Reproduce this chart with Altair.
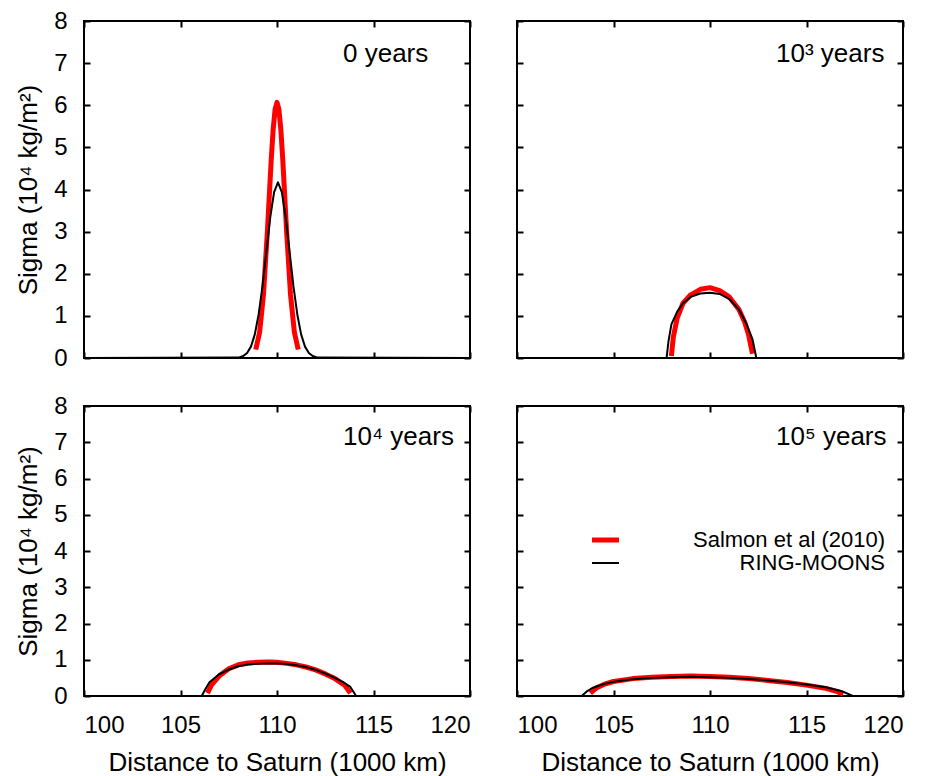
import altair as alt
import pandas as pd

FONT = "Liberation Sans"
RED = "#ff0000"
BLACK = "#000000"

SERIES = ["Salmon et al (2010)", "RING-MOONS"]
PANEL_LABELS = ["0 years", "10³ years", "10⁴ years", "10⁵ years"]
X_TITLE = "Distance to Saturn (1000 km)"
Y_TITLE = "Sigma (10⁴ kg/m²)"
X_TICKS = [100, 105, 110, 115, 120]
Y_TICKS = [0, 1, 2, 3, 4, 5, 6, 7, 8]

# ---- 0 years ----
red0_x = [108.9, 109.1, 109.3, 109.5, 109.7, 109.8, 109.9, 110.0, 110.1, 110.2, 110.3, 110.5, 110.7, 110.9, 111.1]
red0_y = [0.20, 0.61, 1.51, 2.99, 4.70, 5.42, 5.90, 6.07, 5.90, 5.42, 4.70, 2.99, 1.51, 0.61, 0.20]
blk0_x = [100, 108.0, 108.25, 108.45, 108.65, 108.85, 109.05, 109.25, 109.45, 109.65, 109.85, 110.05,
          110.25, 110.45, 110.65, 110.85, 111.05, 111.25, 111.45, 111.65, 111.85, 112.1, 120]
blk0_y = [0, 0.01, 0.046, 0.12, 0.27, 0.56, 1.04, 1.71, 2.53, 3.34, 3.94, 4.17,
          3.94, 3.34, 2.53, 1.71, 1.04, 0.56, 0.27, 0.12, 0.046, 0.01, 0]

# ---- 10^3 years ----
red3_x = [108.0, 108.1, 108.3, 108.6, 109.0, 109.5, 110.0, 110.5, 111.0, 111.5, 111.8, 112.0, 112.2]
red3_y = [0.05, 0.50, 0.95, 1.30, 1.50, 1.63, 1.67, 1.60, 1.45, 1.15, 0.85, 0.55, 0.10]
blk3_x = [100, 107.75, 107.85, 108.0, 108.3, 108.6, 109.0, 109.5, 110.0, 110.5, 111.0, 111.5, 111.9, 112.2, 112.4, 120]
blk3_y = [0, 0, 0.40, 0.80, 1.10, 1.30, 1.45, 1.53, 1.55, 1.52, 1.40, 1.15, 0.80, 0.45, 0, 0]

# ---- 10^4 years ----
red4_x = [106.4, 106.6, 107.0, 107.5, 108.0, 108.5, 109.0, 109.5, 110.0, 110.5, 111.0, 111.5, 112.0, 112.5, 113.0, 113.5, 113.8]
red4_y = [0.08, 0.30, 0.55, 0.75, 0.86, 0.91, 0.93, 0.94, 0.93, 0.90, 0.86, 0.80, 0.72, 0.61, 0.48, 0.30, 0.08]
blk4_x = [100, 106.1, 106.3, 106.5, 107.0, 107.5, 108.0, 108.5, 109.0, 109.5, 110.0, 110.5, 111.0,
          111.5, 112.0, 112.5, 113.0, 113.5, 113.8, 114.1, 120]
blk4_y = [0, 0, 0.20, 0.38, 0.60, 0.73, 0.82, 0.87, 0.89, 0.90, 0.90, 0.88, 0.85,
          0.80, 0.72, 0.62, 0.50, 0.36, 0.25, 0, 0]

# ---- 10^5 years ----
red5_x = [103.8, 104.1, 104.5, 105.0, 106.0, 107.0, 108.0, 109.0, 110.0, 111.0, 112.0, 113.0, 114.0, 115.0, 116.0, 116.6, 116.9]
red5_y = [0.08, 0.22, 0.32, 0.40, 0.48, 0.52, 0.54, 0.55, 0.54, 0.52, 0.48, 0.43, 0.37, 0.30, 0.21, 0.12, 0.05]
blk5_x = [100, 103.35, 103.6, 103.9, 104.5, 105.0, 106.0, 107.0, 108.0, 109.0, 110.0, 111.0,
          112.0, 113.0, 114.0, 115.0, 116.0, 116.8, 117.4, 120]
blk5_y = [0, 0, 0.12, 0.22, 0.33, 0.39, 0.46, 0.50, 0.52, 0.53, 0.52, 0.50,
          0.47, 0.43, 0.38, 0.32, 0.24, 0.14, 0, 0]

W = 386
H_TOP = 337
H_BOT = 290
TICK = 6


def make_panel(rx, ry, bx, by, label, height, label_y, show_x, show_y, legend=False):
    xs = alt.Scale(domain=[100, 120], nice=False, zero=False)
    ys = alt.Scale(domain=[0, 8], nice=False, zero=False)
    x_bottom = alt.Axis(orient="bottom", values=X_TICKS, labels=show_x, offset=-TICK, tickSize=TICK,
                        title=X_TITLE if show_x else None, format="d")
    x_top = alt.Axis(orient="top", values=X_TICKS, labels=False, offset=-TICK, tickSize=TICK, title=None)
    y_left = alt.Axis(orient="left", values=Y_TICKS, labels=show_y, offset=-TICK, tickSize=TICK,
                      title=Y_TITLE if show_y else None, format="d")
    y_right = alt.Axis(orient="right", values=Y_TICKS, labels=False, offset=-TICK, tickSize=TICK, title=None)

    red_df = pd.DataFrame({"x": rx, "y": ry})
    blk_df = pd.DataFrame({"x": bx, "y": by})
    red = alt.Chart(red_df).mark_line(color=RED, strokeWidth=5, strokeJoin="round").encode(
        x=alt.X("x:Q", scale=xs, axis=x_bottom),
        y=alt.Y("y:Q", scale=ys, axis=y_left),
        order="x:Q",
    )
    blk = alt.Chart(blk_df).mark_line(color=BLACK, strokeWidth=2, strokeJoin="round").encode(
        x=alt.X("x:Q", scale=xs, axis=x_top),
        y=alt.Y("y:Q", scale=ys, axis=y_right),
        order="x:Q",
    )
    txt = alt.Chart(pd.DataFrame({"t": [label]})).mark_text(
        align="left", baseline="alphabetic", fontSize=26, font=FONT, color=BLACK
    ).encode(x=alt.value(259), y=alt.value(label_y), text="t:N")
    layers = [red, blk, txt]
    if legend:
        for name, col, sw, yy in [(SERIES[0], RED, 5, 134), (SERIES[1], BLACK, 2, 157)]:
            d = pd.DataFrame({"n": [name]})
            layers.append(alt.Chart(d).mark_rule(color=col, strokeWidth=sw).encode(
                x=alt.value(75), x2=alt.value(102), y=alt.value(yy)))
            layers.append(alt.Chart(d).mark_text(
                align="right", baseline="middle", fontSize=22, font=FONT, color=BLACK
            ).encode(x=alt.value(368), y=alt.value(yy), text="n:N"))
    return alt.layer(*layers).resolve_axis(x="independent", y="independent").properties(
        width=W, height=height)


p0 = make_panel(red0_x, red0_y, blk0_x, blk0_y, PANEL_LABELS[0], H_TOP, 41, False, True)
p3 = make_panel(red3_x, red3_y, blk3_x, blk3_y, PANEL_LABELS[1], H_TOP, 41, False, False)
p4 = make_panel(red4_x, red4_y, blk4_x, blk4_y, PANEL_LABELS[2], H_BOT, 39, True, True)
p5 = make_panel(red5_x, red5_y, blk5_x, blk5_y, PANEL_LABELS[3], H_BOT, 39, True, False, legend=True)

chart = alt.concat(
    p0, p3, p4, p5, columns=2, spacing={"row": 48, "column": 47}, bounds="flush"
).properties(
    padding={"left": 6, "top": 0, "right": 0, "bottom": 0},
    background="white",
).configure_view(
    stroke=BLACK, strokeWidth=2, fill="white"
).configure_axis(
    domain=False, grid=False, tickColor=BLACK, tickWidth=2,
    labelFont=FONT, labelFontSize=24, labelColor=BLACK, labelPadding=17,
    titleFont=FONT, titleFontSize=26, titleFontWeight="normal", titleColor=BLACK, titlePadding=12,
)

chart.save("out.html", embed_options={"renderer": "svg", "actions": False})
